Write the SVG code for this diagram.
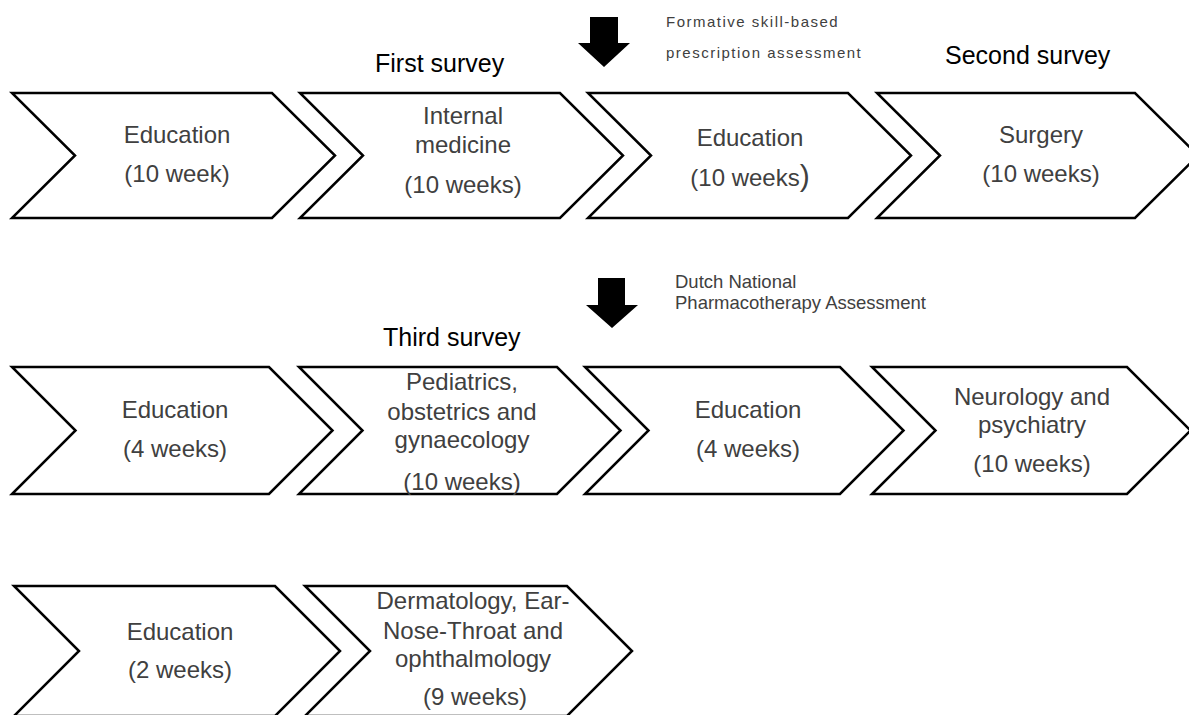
<svg xmlns="http://www.w3.org/2000/svg" width="1189" height="715" viewBox="0 0 1189 715">
<style>
.chev{fill:#fff;stroke:#000;stroke-width:2.5;stroke-linejoin:miter}
.lbl{font-family:"Liberation Sans",Arial,sans-serif;font-size:24px;fill:#404040;text-anchor:middle}
.head{font-family:"Liberation Sans",Arial,sans-serif;font-size:25px;fill:#000}
.note{font-family:"Liberation Sans",Arial,sans-serif;font-size:15px;fill:#404040;letter-spacing:1.5px}
.note2{font-family:"Liberation Sans",Arial,sans-serif;font-size:18.5px;fill:#404040}
.arr{fill:#000}
</style>
<rect width="1189" height="715" fill="#fff"/>
<g id="labels">
<text class="head" x="375" y="72">First survey</text>
<text class="head" x="945" y="64">Second survey</text>
<text class="head" x="383" y="346">Third survey</text>
<text class="note" x="666" y="27">Formative skill-based</text>
<text class="note" x="666" y="58">prescription assessment</text>
<text class="note2" x="675" y="288">Dutch National</text>
<text class="note2" x="675" y="309">Pharmacotherapy Assessment</text>
</g>
<g id="connectors">
<polygon class="arr" points="590,17 618,17 618,43 630,43 604,67 578,43 590,43"/>
<polygon class="arr" points="598,278 625,278 625,305 638,305 612,328 586,305 598,305"/>
</g>
<g id="r1c1">
<polygon class="chev" points="12,93 272,93 335,155.5 272,218 12,218 75,155.5"/>
<text class="lbl" x="177" y="143">Education</text>
<text class="lbl" x="177" y="182">(10 week)</text>
</g>
<g id="r1c2">
<polygon class="chev" points="300,93 560,93 623,155.5 560,218 300,218 363,155.5"/>
<text class="lbl" x="463" y="124">Internal</text>
<text class="lbl" x="463" y="153">medicine</text>
<text class="lbl" x="463" y="193">(10 weeks)</text>
</g>
<g id="r1c3">
<polygon class="chev" points="588,93 848,93 911,155.5 848,218 588,218 651,155.5"/>
<text class="lbl" x="750" y="146">Education</text>
<text class="lbl" x="750" y="186">(10 weeks<tspan font-size="30">)</tspan></text>
</g>
<g id="r1c4">
<polygon class="chev" points="877,93 1135,93 1198,155.5 1135,218 877,218 940,155.5"/>
<text class="lbl" x="1041" y="143">Surgery</text>
<text class="lbl" x="1041" y="182">(10 weeks)</text>
</g>
<g id="r2c1">
<polygon class="chev" points="12,367 269,367 332.5,430.5 269,494 12,494 75.5,430.5"/>
<text class="lbl" x="175" y="418">Education</text>
<text class="lbl" x="175" y="457">(4 weeks)</text>
</g>
<g id="r2c2">
<polygon class="chev" points="299,367 557,367 620.5,430.5 557,494 299,494 362.5,430.5"/>
<text class="lbl" x="462" y="390">Pediatrics,</text>
<text class="lbl" x="462" y="420">obstetrics and</text>
<text class="lbl" x="462" y="448">gynaecology</text>
<text class="lbl" x="462" y="490">(10 weeks)</text>
</g>
<g id="r2c3">
<polygon class="chev" points="585,367 840,367 903.5,430.5 840,494 585,494 648.5,430.5"/>
<text class="lbl" x="748" y="418">Education</text>
<text class="lbl" x="748" y="457">(4 weeks)</text>
</g>
<g id="r2c4">
<polygon class="chev" points="872,367 1127,367 1190.5,430.5 1127,494 872,494 935.5,430.5"/>
<text class="lbl" x="1032" y="405">Neurology and</text>
<text class="lbl" x="1032" y="433">psychiatry</text>
<text class="lbl" x="1032" y="472">(10 weeks)</text>
</g>
<g id="r3c1">
<polygon class="chev" points="14,586 275,586 340,651 275,716 14,716 79,651"/>
<text class="lbl" x="180" y="640">Education</text>
<text class="lbl" x="180" y="678">(2 weeks)</text>
</g>
<g id="r3c2">
<polygon class="chev" points="305,586 567,586 632,651 567,716 305,716 370,651"/>
<text class="lbl" x="473" y="609">Dermatology, Ear-</text>
<text class="lbl" x="473" y="639">Nose-Throat and</text>
<text class="lbl" x="473" y="667">ophthalmology</text>
<text class="lbl" x="475" y="705">(9 weeks)</text>
</g>
</svg>
